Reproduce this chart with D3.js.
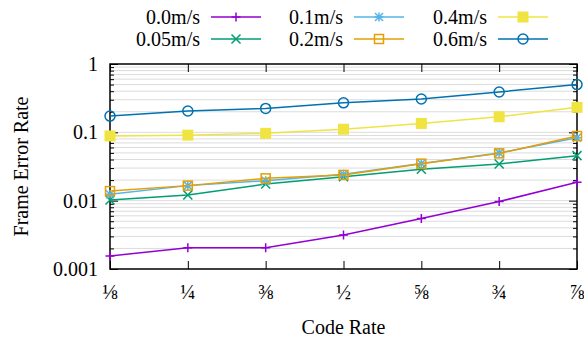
<!DOCTYPE html>
<html>
<head>
<meta charset="utf-8">
<script src="https://cdn.jsdelivr.net/npm/d3@7"></script>
<style>
  body { margin: 0; background: #fff; }
  text { font-family: "Liberation Serif", "Times New Roman", serif; font-size: 20px; fill: #000; }
</style>
</head>
<body>
<svg width="584" height="341"></svg>
<script>
var svg = d3.select("svg"),
    width = +svg.attr("width"),
    height = +svg.attr("height");

// code rates (x) and tick labels
var rates = [1/8, 2/8, 3/8, 4/8, 5/8, 6/8, 7/8];
var rateLabels = ["\u215B", "\u00BC", "\u215C", "\u00BD", "\u215D", "\u00BE", "\u215E"];
var yTicks = [0.001, 0.01, 0.1, 1];
var yTickLabels = ["0.001", "0.01", "0.1", "1"];

// frame error rate per speed
var fer00  = [0.00155, 0.00205, 0.00205, 0.00314, 0.0055, 0.0097, 0.0186];
var fer005 = [0.0102, 0.0121, 0.0175, 0.0224, 0.0288, 0.0344, 0.0456];
var fer01  = [0.0124, 0.0166, 0.0196, 0.0243, 0.035, 0.050, 0.0835];
var fer02  = [0.0138, 0.0166, 0.0212, 0.0238, 0.0348, 0.0492, 0.0884];
var fer04  = [0.0885, 0.091, 0.0966, 0.111, 0.135, 0.169, 0.232];
var fer06  = [0.173, 0.205, 0.224, 0.27, 0.307, 0.39, 0.50];

var seriesNames = ["0.0m/s", "0.05m/s", "0.1m/s", "0.2m/s", "0.4m/s", "0.6m/s"];
var seriesValues = [fer00, fer005, fer01, fer02, fer04, fer06];
var colors = ["#9400d3", "#009e73", "#56b4e9", "#e69f00", "#f0e442", "#0072b2"];
var markers = ["plus", "cross", "star", "openSquare", "filledSquare", "circle"];

var pLeft = 110, pRight = 577, pTop = 64, pBottom = 269;

var x = d3.scaleLinear().domain([1/8, 7/8]).range([pLeft, pRight]);
var y = d3.scaleLog().domain([0.001, 1]).range([pBottom, pTop]);

// minor positions 2..9 in each decade
var minor = [];
[0.001, 0.01, 0.1].forEach(function(d) {
  for (var k = 2; k <= 9; k++) minor.push(d * k);
});

svg.append("g").selectAll("line")
  .data(minor.concat([0.01, 0.1]))
  .enter().append("line")
    .attr("x1", pLeft).attr("x2", pRight)
    .attr("y1", function(d) { return y(d); })
    .attr("y2", function(d) { return y(d); })
    .attr("stroke", "#dcdcdc")
    .attr("stroke-width", 1);

// axes with inward ticks
var yMajor = d3.axisLeft(y).tickValues(yTicks).tickFormat("").tickSize(-8).tickSizeOuter(0);
var yMinor = d3.axisLeft(y).tickValues(minor).tickFormat("").tickSize(-4).tickSizeOuter(0);
var yMajorR = d3.axisRight(y).tickValues(yTicks).tickFormat("").tickSize(-8).tickSizeOuter(0);
var yMinorR = d3.axisRight(y).tickValues(minor).tickFormat("").tickSize(-4).tickSizeOuter(0);
var xBottom = d3.axisBottom(x).tickValues(rates).tickFormat("").tickSize(-8).tickSizeOuter(0);
var xTop = d3.axisTop(x).tickValues(rates).tickFormat("").tickSize(-8).tickSizeOuter(0);

svg.append("g").attr("class", "ax").attr("transform", "translate(" + pLeft + ",0)").call(yMajor);
svg.append("g").attr("class", "ax").attr("transform", "translate(" + pLeft + ",0)").call(yMinor);
svg.append("g").attr("class", "ax").attr("transform", "translate(" + pRight + ",0)").call(yMajorR);
svg.append("g").attr("class", "ax").attr("transform", "translate(" + pRight + ",0)").call(yMinorR);
svg.append("g").attr("class", "ax").attr("transform", "translate(0," + pBottom + ")").call(xBottom);
svg.append("g").attr("class", "ax").attr("transform", "translate(0," + pTop + ")").call(xTop);
svg.selectAll(".ax .domain").remove();
svg.selectAll(".ax line").attr("stroke", "#000").attr("stroke-width", 1);

svg.append("rect")
  .attr("x", pLeft).attr("y", pTop)
  .attr("width", pRight - pLeft).attr("height", pBottom - pTop)
  .attr("fill", "none").attr("stroke", "#000").attr("stroke-width", 1.5);

// tick labels
svg.append("g").selectAll("text")
  .data(yTicks)
  .enter().append("text")
    .attr("x", pLeft - 12)
    .attr("y", function(d) { return y(d); })
    .attr("dy", "0.35em")
    .attr("text-anchor", "end")
    .text(function(d, i) { return yTickLabels[i]; });

svg.append("g").selectAll("text")
  .data(rates)
  .enter().append("text")
    .attr("x", function(d) { return x(d); })
    .attr("y", 299)
    .attr("text-anchor", "middle")
    .text(function(d, i) { return rateLabels[i]; });

svg.append("text")
  .attr("transform", "translate(21," + ((pTop + pBottom) / 2) + ") rotate(-90)")
  .attr("text-anchor", "middle")
  .attr("dy", "0.35em")
  .text("Frame Error Rate");

svg.append("text")
  .attr("x", (pLeft + pRight) / 2)
  .attr("y", 334)
  .attr("text-anchor", "middle")
  .text("Code Rate");

function drawMarker(g, type, color) {
  if (type == "plus") {
    g.append("path").attr("d", "M-4.5,0H4.5M0,-4.5V4.5").attr("stroke", color).attr("stroke-width", 1.5).attr("fill", "none");
  } else if (type == "cross") {
    g.append("path").attr("d", "M-4.5,-4.5L4.5,4.5M-4.5,4.5L4.5,-4.5").attr("stroke", color).attr("stroke-width", 1.5).attr("fill", "none");
  } else if (type == "star") {
    g.append("path").attr("d", "M-4.5,0H4.5M0,-4.5V4.5M-4,-4L4,4M-4,4L4,-4").attr("stroke", color).attr("stroke-width", 1.5).attr("fill", "none");
  } else if (type == "openSquare") {
    g.append("rect").attr("x", -4.5).attr("y", -4.5).attr("width", 9).attr("height", 9).attr("stroke", color).attr("stroke-width", 1.5).attr("fill", "none");
  } else if (type == "filledSquare") {
    g.append("rect").attr("x", -5.5).attr("y", -5.5).attr("width", 11).attr("height", 11).attr("fill", color);
  } else if (type == "circle") {
    g.append("circle").attr("r", 5).attr("stroke", color).attr("stroke-width", 1.5).attr("fill", "none");
  }
}

var line = d3.line()
  .x(function(d, i) { return x(rates[i]); })
  .y(function(d) { return y(d); });

seriesValues.forEach(function(vals, s) {
  var g = svg.append("g");
  g.append("path")
    .attr("d", line(vals))
    .attr("fill", "none")
    .attr("stroke", colors[s])
    .attr("stroke-width", 1.5);
  vals.forEach(function(v, i) {
    var m = g.append("g").attr("transform", "translate(" + x(rates[i]) + "," + y(v) + ")");
    drawMarker(m, markers[s], colors[s]);
  });
});

// legend, filled column by column
var legendCols = [200, 343, 487];
var legendRows = [17, 39];
seriesNames.forEach(function(name, s) {
  var cx = legendCols[Math.floor(s / 2)], cy = legendRows[s % 2];
  var g = svg.append("g");
  g.append("text")
    .attr("x", cx).attr("y", cy).attr("dy", "0.35em")
    .attr("text-anchor", "end")
    .text(name);
  g.append("line")
    .attr("x1", cx + 11).attr("x2", cx + 61)
    .attr("y1", cy).attr("y2", cy)
    .attr("stroke", colors[s]).attr("stroke-width", 1.5);
  var m = g.append("g").attr("transform", "translate(" + (cx + 36) + "," + cy + ")");
  drawMarker(m, markers[s], colors[s]);
});
</script>
</body>
</html>
